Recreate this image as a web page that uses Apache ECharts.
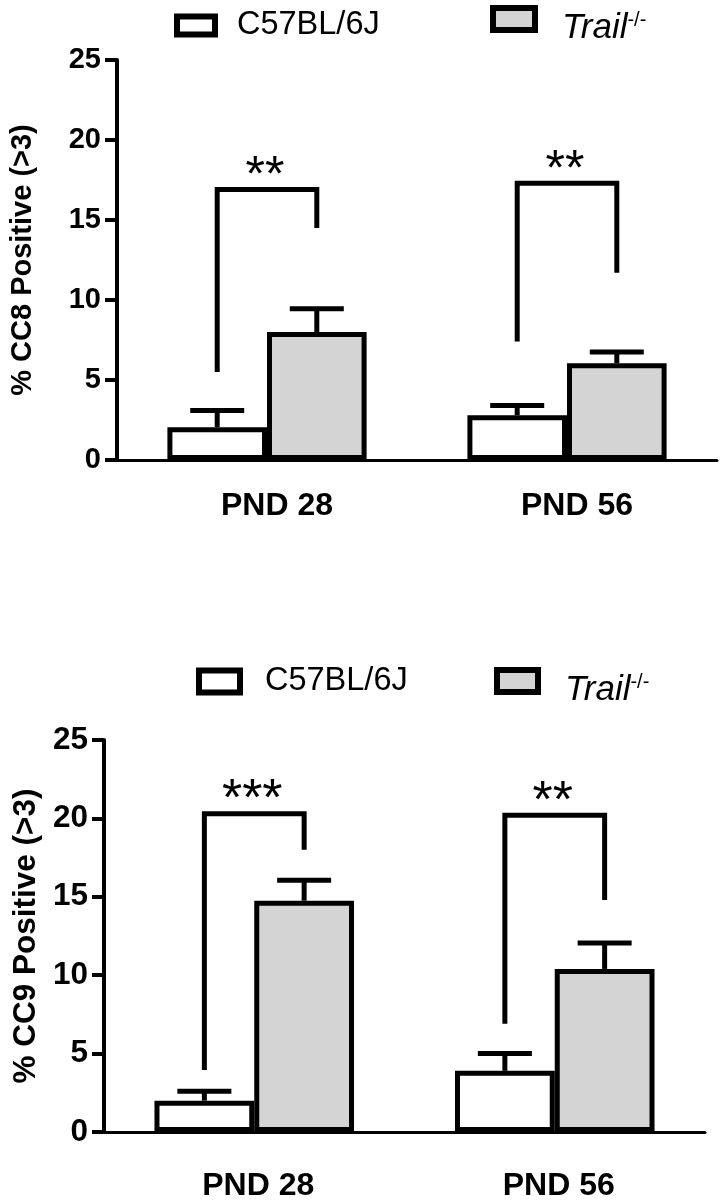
<!DOCTYPE html>
<html><head><meta charset="utf-8">
<script src="https://cdn.jsdelivr.net/npm/echarts@6/dist/echarts.min.js"></script>
<style>html,body{margin:0;padding:0;background:#fff}#c{width:722px;height:1202px}</style>
</head><body><div id="c"></div>
<script>
// ---- data ----
const categories = ['PND 28', 'PND 56'];
const seriesNames = ['C57BL/6J', 'Trail-/-'];
const cc8Wild = [2.05, 2.8];
const cc8WildErr = [1.05, 0.6];
const cc8Trail = [8.0, 6.05];
const cc8TrailErr = [1.45, 0.7];
const cc9Wild = [2.0, 3.9];
const cc9WildErr = [0.6, 1.1];
const cc9Trail = [14.75, 10.4];
const cc9TrailErr = [1.3, 1.65];
const cc8BracketLeft = [5.5, 7.4];
const cc8BracketTop = [16.9, 17.3];
const cc8BracketRight = [14.5, 11.7];
const cc8Stars = ['**', '**'];
const cc9BracketLeft = [3.95, 6.9];
const cc9BracketTop = [20.3, 20.2];
const cc9BracketRight = [18.0, 14.8];
const cc9Stars = ['***', '**'];
const yTitles = ['% CC8 Positive (>3)', '% CC9 Positive (>3)'];

const FONT = 'Liberation Sans';
const BLACK = '#000';
const GRAY = '#d4d4d4';
const BAR_FRAC = 0.332;

function barOffset(api, side) {
  const band = api.size([1, 0])[0];
  return side * band * BAR_FRAC / 2;
}

function errSeries(idx, vals, errs, side) {
  return {
    type: 'custom', xAxisIndex: idx, yAxisIndex: idx, z: 5, silent: true,
    data: vals.map((v, i) => [i, v, errs[i]]),
    renderItem: function (params, api) {
      const x0 = api.value(0);
      const p0 = api.coord([x0, api.value(1)]);
      const p1 = api.coord([x0, api.value(1) + api.value(2)]);
      const x = p0[0] + barOffset(api, side);
      const st = { stroke: BLACK, lineWidth: 5 };
      return {
        type: 'group', children: [
          { type: 'line', shape: { x1: x, y1: p0[1], x2: x, y2: p1[1] }, style: st },
          { type: 'line', shape: { x1: x - 27, y1: p1[1], x2: x + 27, y2: p1[1] }, style: st }
        ]
      };
    }
  };
}

function bracketSeries(idx, left, top, right, stars, fs) {
  return {
    type: 'custom', xAxisIndex: idx, yAxisIndex: idx, z: 6, silent: true,
    data: left.map((v, i) => [i, v, top[i], right[i]]),
    renderItem: function (params, api) {
      const c = api.value(0);
      const pl = api.coord([c, api.value(1)]);
      const pt = api.coord([c, api.value(2)]);
      const pr = api.coord([c, api.value(3)]);
      const xl = pl[0] + barOffset(api, -1);
      const xr = pl[0] + barOffset(api, 1);
      return {
        type: 'group', children: [
          { type: 'polyline', shape: { points: [[xl, pl[1]], [xl, pt[1]], [xr, pt[1]], [xr, pr[1]]] },
            style: { stroke: BLACK, lineWidth: 5, fill: null, lineJoin: 'miter' } },
          { type: 'text', x: (xl + xr) / 2 - 2, y: pt[1] + 13,
            style: { text: stars[params.dataIndex], fontFamily: FONT, fontSize: fs, fill: BLACK,
              align: 'center', verticalAlign: 'bottom' } }
        ]
      };
    }
  };
}

function barSeries(idx, name, vals, color) {
  return {
    type: 'bar', name: name, xAxisIndex: idx, yAxisIndex: idx, data: vals,
    barWidth: (BAR_FRAC * 100) + '%', barGap: '0%', z: 3,
    itemStyle: { color: color, borderColor: BLACK, borderWidth: 5 },
    emphasis: { disabled: true }, silent: true
  };
}

function yAxis(idx, title, fs, gap) {
  return {
    gridIndex: idx, type: 'value', min: 0, max: 25, interval: 5,
    name: title, nameLocation: 'middle', nameRotate: 90, nameGap: gap,
    nameTextStyle: { fontFamily: FONT, fontSize: fs, fontWeight: 'bold', color: BLACK },
    axisLine: { show: true, lineStyle: { color: BLACK, width: 4 } },
    axisTick: { show: true, length: 12, lineStyle: { color: BLACK, width: 4 } },
    axisLabel: { fontFamily: FONT, fontSize: fs, fontWeight: 'bold', color: BLACK, margin: 16 },
    splitLine: { show: false }
  };
}

function xAxis(idx, margin, shift) {
  return {
    gridIndex: idx, type: 'category', data: categories,
    axisLine: { lineStyle: { color: BLACK, width: 3 } },
    axisTick: { show: false },
    axisLabel: { fontFamily: FONT, fontSize: 32, fontWeight: 'bold', color: BLACK, margin: margin,
      padding: [0, 0, 0, shift] }
  };
}

const legendRich = {
  it: { fontFamily: FONT, fontSize: 35, fontStyle: 'italic', color: BLACK },
  sup: { fontFamily: FONT, fontSize: 20, color: BLACK, verticalAlign: 'top', padding: [0, 0, 16, 0] },
  n: { fontFamily: FONT, fontSize: 32.5, color: BLACK }
};
function legendItem(name, left, top, w, h, textPad) {
  return {
    data: [name], left: left, top: top, padding: 0, selectedMode: false, icon: 'rect',
    itemWidth: w, itemHeight: h,
    itemStyle: { borderColor: BLACK, borderWidth: 6 },
    formatter: function (n) {
      return n === 'Trail-/-' ? '{it|Trail}{sup|-/-}' : '{n|' + n + '}';
    },
    textStyle: { rich: legendRich, padding: textPad }
  };
}

const chart = echarts.init(document.getElementById('c'), null, { renderer: 'canvas' });
chart.setOption({
  animation: false,
  backgroundColor: '#fff',
  legend: [
    legendItem(seriesNames[0], 174, 9, 38, 18, [0, 0, 0, 17]),
    legendItem(seriesNames[1], 490, 5, 42, 22, [18, 0, 0, 22]),
    legendItem(seriesNames[0], 196, 665, 41, 22, [0, 0, 0, 20]),
    legendItem(seriesNames[1], 494, 667, 41, 22, [18, 0, 0, 22])
  ],
  grid: [
    { left: 115, right: 5, top: 60, height: 400 },
    { left: 104, right: 17, top: 740, height: 398 }
  ],
  xAxis: [xAxis(0, 30, 20), xAxis(1, 38, 8)],
  yAxis: [yAxis(0, yTitles[0], 29, 80), yAxis(1, yTitles[1], 31.5, 60)],
  series: [
    barSeries(0, seriesNames[0], cc8Wild, '#fff'),
    barSeries(0, seriesNames[1], cc8Trail, GRAY),
    errSeries(0, cc8Wild, cc8WildErr, -1),
    errSeries(0, cc8Trail, cc8TrailErr, 1),
    bracketSeries(0, cc8BracketLeft, cc8BracketTop, cc8BracketRight, cc8Stars, 50),
    barSeries(1, seriesNames[0], cc9Wild, '#fff'),
    barSeries(1, seriesNames[1], cc9Trail, GRAY),
    errSeries(1, cc9Wild, cc9WildErr, -1),
    errSeries(1, cc9Trail, cc9TrailErr, 1),
    bracketSeries(1, cc9BracketLeft, cc9BracketTop, cc9BracketRight, cc9Stars, 52)
  ]
});
</script></body></html>
